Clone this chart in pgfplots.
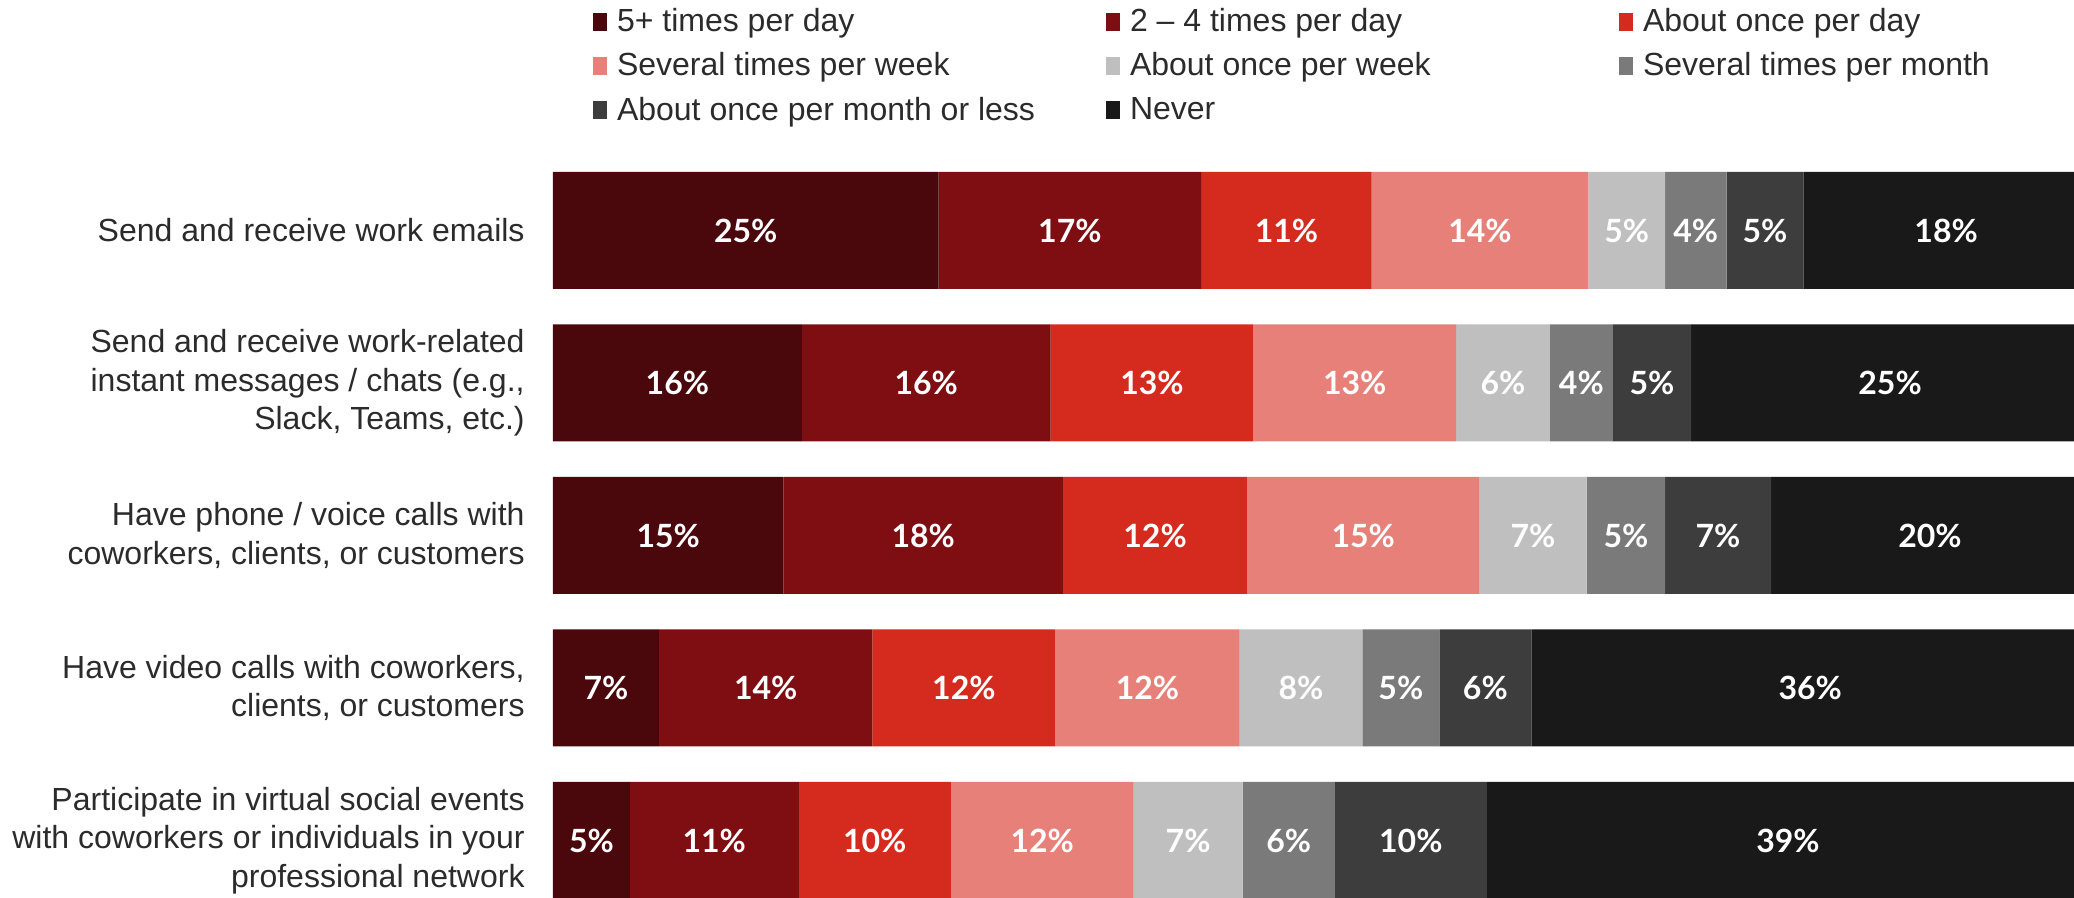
\documentclass[border=0pt]{standalone}
\usepackage{fontspec}
\setmainfont{Liberation Sans}
\newfontfamily\labfont{Lato}
\usepackage{pgfplots}
\pgfplotsset{compat=1.18}
\definecolor{cA}{HTML}{4B080C}
\definecolor{cB}{HTML}{7E0E11}
\definecolor{cC}{HTML}{D52B1E}
\definecolor{cD}{HTML}{E8807A}
\definecolor{cE}{HTML}{BFBFBF}
\definecolor{cF}{HTML}{7A7A7A}
\definecolor{cG}{HTML}{3D3D3D}
\definecolor{cH}{HTML}{191919}
\definecolor{txt}{HTML}{2B2B2B}
\begin{document}
\begin{tikzpicture}
\begin{axis}[
  at={(0,0)}, anchor=south west,
  scale only axis, width=768bp, height=363bp,
  xbar stacked, bar width=58.5bp,
  xmin=0, xmax=100, ymin=-0.3771, ymax=4.3836,
  axis line style={draw=none},
  xtick=\empty, ytick={0,1,2,3,4}, major tick length=0pt,
  yticklabels={{Participate in virtual social events\\with coworkers or individuals in your\\professional network},
               {Have video calls with coworkers,\\clients, or customers},
               {Have phone / voice calls with\\coworkers, clients, or customers},
               {Send and receive work-related\\instant messages / chats (e.g.,\\Slack, Teams, etc.)},
               {Send and receive work emails}},
  yticklabel style={align=right, anchor=east, inner sep=0pt, xshift=-14bp,
     font=\fontsize{16bp}{19.2bp}\selectfont, text=txt},
  point meta=explicit symbolic,
  nodes near coords={\pgfplotspointmeta\%},
  every node near coord/.append style={font=\labfont\bfseries\fontsize{16bp}{19bp}\selectfont, text=white},
  legend columns=3,
  legend cell align=left,
  legend style={at={(0.0258,1.2256)}, anchor=north west, draw=none, fill=none,
     inner sep=0pt, row sep=9bp, column sep=5bp,
     font=\fontsize{16bp}{19.2bp}\selectfont, text=txt,
     nodes={inner sep=0pt}},
  legend image code/.code={\path[#1, draw=none] (0bp,-4.5bp) rectangle (7bp,4.5bp);},
]
\addplot[fill=cA, draw=none] coordinates {(25.1,4) [25] (16.2,3) [16] (15.0,2) [15] (6.9,1) [7] (5.0,0) [5]};
\addplot[fill=cB, draw=none] coordinates {(17.1,4) [17] (16.2,3) [16] (18.2,2) [18] (13.9,1) [14] (11.0,0) [11]};
\addplot[fill=cC, draw=none] coordinates {(11.1,4) [11] (13.2,3) [13] (12.0,2) [12] (11.9,1) [12] (9.9,0) [10]};
\addplot[fill=cD, draw=none] coordinates {(14.1,4) [14] (13.2,3) [13] (15.1,2) [15] (12.0,1) [12] (11.9,0) [12]};
\addplot[fill=cE, draw=none] coordinates {(5.0,4) [5] (6.1,3) [6] (7.0,2) [7] (8.0,1) [8] (7.1,0) [7]};
\addplot[fill=cF, draw=none] coordinates {(4.0,4) [4] (4.1,3) [4] (5.1,2) [5] (5.0,1) [5] (6.0,0) [6]};
\addplot[fill=cG, draw=none] coordinates {(5.0,4) [5] (5.1,3) [5] (6.9,2) [7] (6.0,1) [6] (9.9,0) [10]};
\addplot[fill=cH, draw=none] coordinates {(18.6,4) [18] (25.9,3) [25] (20.7,2) [20] (36.3,1) [36] (39.2,0) [39]};
\addlegendentry{\makebox[239.5bp][l]{5+ times per day}}
\addlegendentry{\makebox[239.5bp][l]{2 -- 4 times per day}}
\addlegendentry{About once per day}
\addlegendentry{\makebox[239.5bp][l]{Several times per week}}
\addlegendentry{\makebox[239.5bp][l]{About once per week}}
\addlegendentry{Several times per month}
\addlegendentry{\makebox[239.5bp][l]{About once per month or less}}
\addlegendentry{\makebox[239.5bp][l]{Never}}
\end{axis}
\pgfresetboundingbox
\path[use as bounding box] (-276.5bp,0bp) rectangle (760.5bp,449bp);
\end{tikzpicture}
\end{document}
